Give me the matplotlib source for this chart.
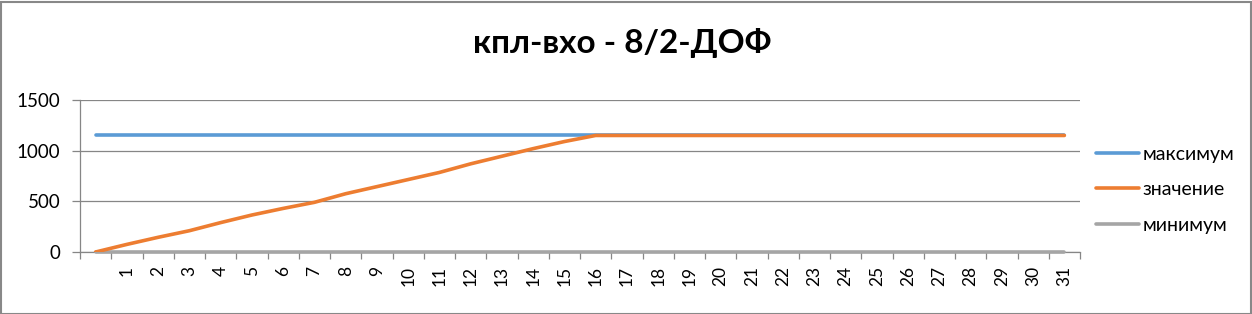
import matplotlib.pyplot as plt
import numpy as np
from matplotlib.patches import Rectangle

# data
categories = [''] + [str(i) for i in range(1, 32)]
maximum = [1150] * 32
value = [0, 75, 145, 210, 290, 365, 430, 490, 575, 645, 715, 785, 870, 945,
         1020, 1090, 1150] + [1150] * 15
minimum = [0] * 32

plt.rcParams['font.family'] = ['Lato', 'DejaVu Sans']

fig = plt.figure(figsize=(12.52, 3.14), dpi=100)
ax = fig.add_axes([80 / 1252, 1 - 252 / 314, 1000 / 1252, 152 / 314])

x = np.arange(len(categories))
lw = 2.6
ax.plot(x, maximum, color='#5b9bd5', lw=lw, label='максимум', solid_capstyle='round', zorder=3)
ax.plot(x, value, color='#ed7d31', lw=lw, label='значение', solid_capstyle='round', zorder=4)
ax.plot(x, minimum, color='#a5a5a5', lw=lw, label='минимум', solid_capstyle='round', zorder=3, clip_on=False)

ax.set_xlim(-0.5, len(categories) - 0.5)
ax.set_ylim(0, 1500)
ax.set_yticks([0, 500, 1000, 1500])
ax.yaxis.grid(True, color='#868686', lw=0.9)
ax.set_axisbelow(True)

ax.set_xticks(x)
ax.set_xticklabels(categories, rotation=90)
ax.set_xticks(np.arange(-0.5, len(categories)), minor=True)
ax.tick_params(axis='x', which='major', length=0, pad=10, labelsize=12.5)
ax.tick_params(axis='x', which='minor', length=5, color='#868686', width=0.9)
ax.tick_params(axis='y', length=6, color='#868686', width=0.9, labelsize=13.5, pad=8)

for s in ['top', 'right']:
    ax.spines[s].set_visible(False)
for s in ['left', 'bottom']:
    ax.spines[s].set_color('#868686')
    ax.spines[s].set_linewidth(0.9)

ax.set_title('кпл-вхо - 8/2-ДОФ', fontsize=24, fontweight='bold',
             x=(622 - 80) / 1000, y=1 + 34 / 152, va='bottom')

fig.legend(loc='upper left', bbox_to_anchor=(1088 / 1252, 1 - 138 / 314),
           frameon=False, fontsize=14, handlelength=2.2, handletextpad=0.2,
           labelspacing=0.95, borderaxespad=0)

fig.patches.append(Rectangle((0.5 / 1252, 0.5 / 314), 1 - 2 / 1252, 1 - 2 / 314,
                             transform=fig.transFigure, fill=False,
                             edgecolor='#888888', lw=1.5))

fig.savefig('out.png', dpi=100)
